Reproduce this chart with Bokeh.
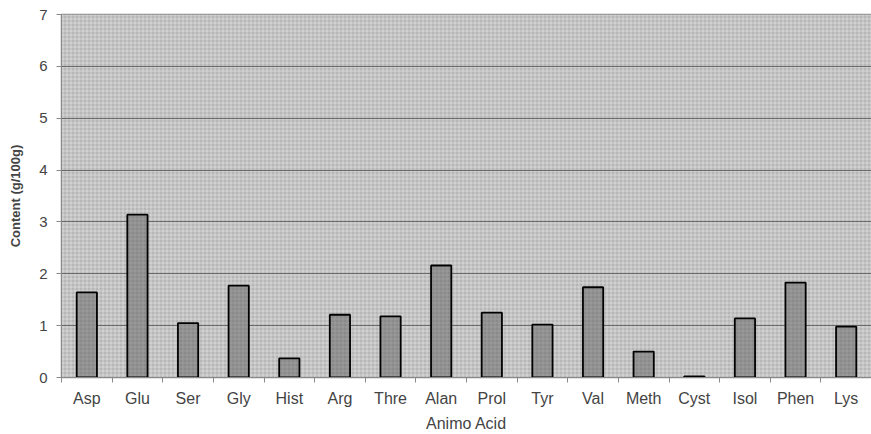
from bokeh.plotting import figure
from bokeh.models import FixedTicker, BoxAnnotation, Range1d
from bokeh.embed import file_html
from bokeh.resources import INLINE

categories = ["Asp", "Glu", "Ser", "Gly", "Hist", "Arg", "Thre", "Alan",
              "Prol", "Tyr", "Val", "Meth", "Cyst", "Isol", "Phen", "Lys"]
content = [1.64, 3.14, 1.05, 1.77, 0.37, 1.21, 1.18, 2.16,
           1.25, 1.02, 1.74, 0.50, 0.02, 1.14, 1.83, 0.98]
y_ticks = [0, 1, 2, 3, 4, 5, 6, 7]

n = len(categories)
centers = [i + 0.5 for i in range(n)]

p = figure(width=871, height=434, output_backend="svg", toolbar_location=None,
           x_range=Range1d(0, n), y_range=Range1d(0, 7),
           min_border_left=61, min_border_top=14, min_border_bottom=57,
           min_border_right=0)

p.background_fill_color = "#b8b8b8"
p.border_fill_color = "white"
p.outline_line_color = "#8a8a8a"
p.outline_line_width = 1.5

bg = BoxAnnotation(left=0, right=n, bottom=0, top=7, level="image",
                   fill_color="#b6b6b6", fill_alpha=1.0, line_color=None,
                   hatch_pattern="+", hatch_color="white", hatch_alpha=0.4,
                   hatch_scale=4, hatch_weight=1)
p.add_layout(bg)

p.vbar(x=centers, top=content, width=0.4, fill_color="#8a8a8a",
       line_color="black", line_width=1.8,
       hatch_pattern="+", hatch_color="#a6a6a6", hatch_alpha=0.55,
       hatch_scale=4, hatch_weight=1)

p.xgrid.grid_line_color = None
p.ygrid.grid_line_color = "#6a6a6a"
p.ygrid.grid_line_width = 1
p.ygrid.ticker = FixedTicker(ticks=y_ticks)

p.xaxis.ticker = FixedTicker(ticks=centers, minor_ticks=list(range(n + 1)))
p.xaxis.major_label_overrides = {c: lab for c, lab in zip(centers, categories)}
p.xaxis.major_tick_out = 0
p.xaxis.major_tick_in = 0
p.xaxis.minor_tick_out = 5
p.xaxis.minor_tick_in = 0
p.xaxis.minor_tick_line_color = "#8a8a8a"
p.xaxis.axis_line_color = "#8a8a8a"
p.xaxis.axis_label = "Animo Acid"
p.xaxis.axis_label_text_font = "Liberation Sans"
p.xaxis.axis_label_text_font_style = "normal"
p.xaxis.axis_label_text_font_size = "16px"
p.xaxis.axis_label_standoff = 5
p.xaxis.major_label_text_font = "Liberation Sans"
p.xaxis.major_label_text_font_size = "16px"
p.xaxis.major_label_standoff = 7

p.yaxis.ticker = FixedTicker(ticks=y_ticks)
p.yaxis.minor_tick_line_color = None
p.yaxis.major_tick_out = 5
p.yaxis.major_tick_in = 0
p.yaxis.major_tick_line_color = "#8a8a8a"
p.yaxis.axis_line_color = "#8a8a8a"
p.yaxis.axis_label = "Content (g/100g)"
p.yaxis.axis_label_text_font = "Liberation Sans"
p.yaxis.axis_label_text_font_style = "bold"
p.yaxis.axis_label_text_font_size = "13px"
p.yaxis.axis_label_standoff = 13
p.yaxis.major_label_text_font = "Liberation Sans"
p.yaxis.major_label_text_font_size = "15px"
p.yaxis.major_label_standoff = 9

open("out.html", "w").write(file_html(p, INLINE))
